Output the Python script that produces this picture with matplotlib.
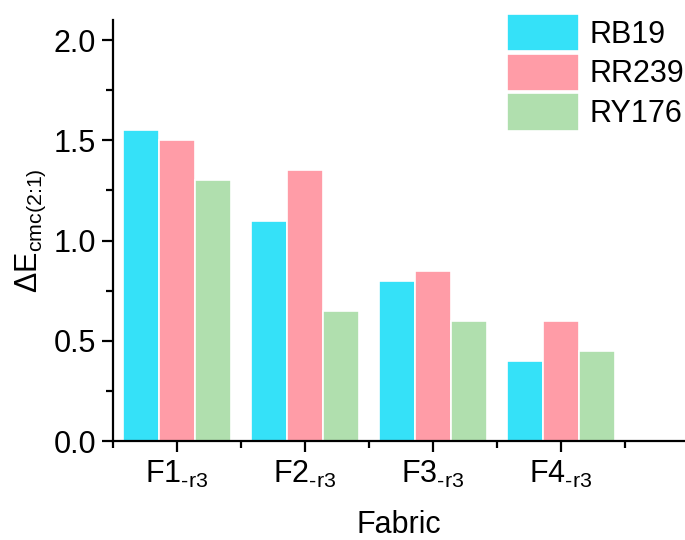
import matplotlib
matplotlib.use("Agg")
import matplotlib.pyplot as plt
import numpy as np

plt.rcParams['font.family'] = ['Liberation Sans', 'DejaVu Sans']
plt.rcParams['mathtext.fontset'] = 'custom'
plt.rcParams['mathtext.rm'] = 'Liberation Sans'
plt.rcParams['mathtext.it'] = 'Liberation Sans:italic'
plt.rcParams['mathtext.bf'] = 'Liberation Sans:bold'
plt.rcParams['mathtext.default'] = 'regular'

categories = [r"F1$_{\text{-r3}}$", r"F2$_{\text{-r3}}$", r"F3$_{\text{-r3}}$", r"F4$_{\text{-r3}}$"]
series_names = ["RB19", "RR239", "RY176"]
rb19 = [1.55, 1.10, 0.80, 0.40]
rr239 = [1.50, 1.35, 0.85, 0.60]
ry176 = [1.30, 0.65, 0.60, 0.45]
colors = ["#35E1F8", "#FF9CA7", "#B0DFAE"]

fig = plt.figure(figsize=(6.85, 5.4), dpi=100)
ax = fig.add_axes([0.165, 0.183, 0.835, 0.78])

x = np.arange(1, len(categories) + 1)
w = 0.28
for i, (vals, name, c) in enumerate(zip([rb19, rr239, ry176], series_names, colors)):
    ax.bar(x + (i - 1) * w, vals, width=w, color=c, edgecolor='white', linewidth=1.2, label=name)

ax.set_xlim(0.5, 4.97)
ax.set_ylim(0, 2.1)
ax.set_yticks([0, 0.5, 1.0, 1.5, 2.0])
ax.set_yticklabels(["0.0", "0.5", "1.0", "1.5", "2.0"])
ax.set_yticks(np.arange(0.25, 2.1, 0.5), minor=True)
ax.set_xticks(x)
ax.set_xticklabels(categories)
ax.set_xticks([0.5, 1.5, 2.5, 3.5, 4.5], minor=True)

for s in ['top', 'right']:
    ax.spines[s].set_visible(False)
for s in ['left', 'bottom']:
    ax.spines[s].set_linewidth(1.6)

ax.tick_params(axis='both', which='major', direction='out', length=8, width=1.6, labelsize=22)
ax.tick_params(axis='both', which='minor', direction='out', length=5, width=1.6)
ax.tick_params(axis='x', which='major', pad=5)
ax.tick_params(axis='y', which='major', pad=4)

ax.set_ylabel(r"ΔE$_{\text{cmc(2:1)}}$", fontsize=22, labelpad=4)
ax.set_xlabel("Fabric", fontsize=22, labelpad=14)

leg = ax.legend(loc='upper left', bbox_to_anchor=(507 / 685, 1 - 14 / 540),
                bbox_transform=fig.transFigure, frameon=False, fontsize=22,
                handlelength=2.35, handleheight=1.5, labelspacing=0.08, handletextpad=0.35,
                borderaxespad=0, borderpad=0)

fig.savefig("out.png", dpi=100)
